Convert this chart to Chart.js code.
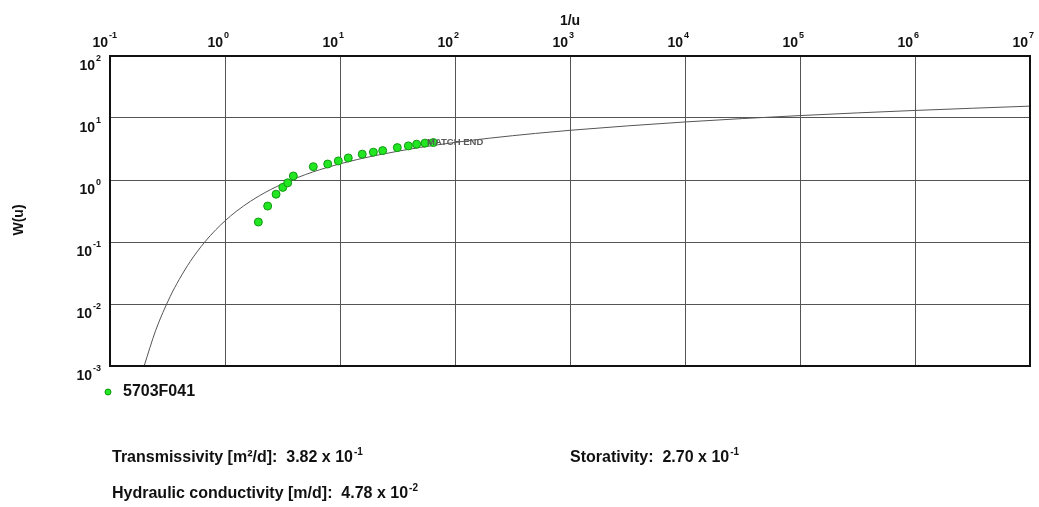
<!DOCTYPE html>
<html>
<head>
<meta charset="utf-8">
<script src="https://cdn.jsdelivr.net/npm/chart.js@4.4.1/dist/chart.umd.min.js"></script>
<style>
    html, body { margin: 0; padding: 0; background: #fff; }
    #grafico { display: block; }
</style>
</head>
<body>
<canvas id="grafico" width="1039" height="507"></canvas>
<script>
const pontosX = [1.95, 2.35, 2.78, 3.18, 3.51, 3.93, 5.86, 7.82, 9.67, 11.8, 15.6, 19.5, 23.5, 31.5, 39.3, 46.4, 54.8, 64.8];
const pontosY = [0.21, 0.38, 0.59, 0.76, 0.90, 1.16, 1.64, 1.81, 2.03, 2.27, 2.61, 2.81, 2.98, 3.33, 3.55, 3.78, 3.93, 4.02];

// curva de Theis desenhada no gráfico
const curvaX = [0.198, 0.25, 0.333, 0.4, 0.5, 0.667, 0.833, 1, 1.25, 1.667, 2, 2.5, 3.333, 5, 6.667, 10, 14.29, 20, 33.33, 50, 100, 200, 500, 1000, 1e4, 1e5, 1e6, 1e7];
const curvaY = [0.001, 0.00378, 0.0131, 0.0249, 0.0489, 0.100, 0.158, 0.219, 0.311, 0.454, 0.560, 0.702, 0.906, 1.223, 1.465, 1.823, 2.151, 2.468, 2.959, 3.355, 4.038, 4.726, 5.639, 6.332, 8.633, 10.94, 13.24, 15.54];

const decadasX = [0.1, 1, 10, 100, 1e3, 1e4, 1e5, 1e6, 1e7];
const expoentesX = ['-1', '0', '1', '2', '3', '4', '5', '6', '7'];
const decadasY = [0.001, 0.01, 0.1, 1, 10, 100];
const expoentesY = ['-3', '-2', '-1', '0', '1', '2'];

const tituloX = '1/u';
const tituloY = 'W(u)';
const nomeSerie = '5703F041';
const rotuloFim = 'MATCH END';

const parametros = ['Transmissivity [m\u00b2/d]:', 'Storativity:', 'Hydraulic conductivity [m/d]:'];
const mantissas = ['3.82', '2.70', '4.78'];
const expoentesParam = ['-1', '-1', '-2'];

const FONTE = '"Liberation Sans", Arial, sans-serif';

function fonte(tam) {
    return 'bold ' + tam + 'px ' + FONTE;
}

// texto + expoente, alinhado pela esquerda
function escreverPotencia(ctx, texto, exp, x, y, tam, tamSup) {
    ctx.textAlign = 'left';
    ctx.textBaseline = 'middle';
    ctx.font = fonte(tam);
    ctx.fillText(texto, x, y);
    const w = ctx.measureText(texto).width;
    ctx.font = fonte(tamSup);
    ctx.fillText(exp, x + w + 1, y - 6);
}

const desenhos = {
    id: 'desenhos',
    afterDatasetsDraw(chart) {
        const ctx = chart.ctx;
        const area = chart.chartArea;
        const sx = chart.scales.x;
        const sy = chart.scales.y;
        ctx.save();

        // moldura
        ctx.strokeStyle = '#111';
        ctx.lineWidth = 2;
        ctx.strokeRect(area.left, area.top, area.right - area.left, area.bottom - area.top);

        // rótulo MATCH END
        ctx.font = 'bold 9.5px ' + FONTE;
        ctx.fillStyle = '#5a5a5a';
        ctx.textAlign = 'left';
        ctx.textBaseline = 'middle';
        ctx.fillText(rotuloFim, 427, sy.getPixelForValue(4.1));

        ctx.fillStyle = '#111';

        // eixo x (topo)
        decadasX.forEach((v, i) => {
            const gx = sx.getPixelForValue(v);
            ctx.font = fonte(14);
            ctx.textAlign = 'right';
            ctx.textBaseline = 'middle';
            ctx.fillText('10', gx - 2, 43);
            ctx.font = fonte(9);
            ctx.textAlign = 'left';
            ctx.fillText(expoentesX[i], gx - 1, 36);
        });
        ctx.font = fonte(14);
        ctx.textAlign = 'center';
        ctx.textBaseline = 'middle';
        ctx.fillText(tituloX, sx.getPixelForValue(1000), 21);

        // eixo y
        decadasY.forEach((v, i) => {
            const y = sy.getPixelForValue(v) + 10;
            ctx.font = fonte(9);
            const ws = ctx.measureText(expoentesY[i]).width;
            ctx.textAlign = 'left';
            ctx.textBaseline = 'middle';
            ctx.fillText(expoentesY[i], 101 - ws, y - 7);
            ctx.font = fonte(14);
            ctx.textAlign = 'right';
            ctx.fillText('10', 100 - ws, y);
        });
        ctx.save();
        ctx.translate(19, 220);
        ctx.rotate(-Math.PI / 2);
        ctx.font = fonte(14);
        ctx.textAlign = 'center';
        ctx.textBaseline = 'middle';
        ctx.fillText(tituloY, 0, 0);
        ctx.restore();

        // legenda
        const ds = chart.data.datasets[0];
        ctx.fillStyle = ds.backgroundColor;
        ctx.strokeStyle = ds.borderColor;
        ctx.lineWidth = 1;
        ctx.beginPath();
        ctx.arc(108, 392, 3, 0, Math.PI * 2);
        ctx.fill();
        ctx.stroke();
        ctx.fillStyle = '#111';
        ctx.font = fonte(16);
        ctx.textAlign = 'left';
        ctx.textBaseline = 'middle';
        ctx.fillText(ds.label, 123, 392);

        // parâmetros
        const posicoes = [[112, 458], [570, 458], [112, 494]];
        parametros.forEach((p, i) => {
            const txt = p + '  ' + mantissas[i] + ' x 10';
            escreverPotencia(ctx, txt, expoentesParam[i], posicoes[i][0], posicoes[i][1], 16, 10);
        });

        ctx.restore();
    }
};

const ctx = document.getElementById('grafico');

new Chart(ctx, {
    type: 'scatter',
    data: {
        datasets: [
            {
                label: nomeSerie,
                data: pontosX.map((x, i) => ({ x: x, y: pontosY[i] })),
                backgroundColor: '#22e622',
                borderColor: '#119911',
                borderWidth: 1,
                pointRadius: 4,
                order: 1
            },
            {
                label: 'Theis',
                data: curvaX.map((x, i) => ({ x: x, y: curvaY[i] })),
                showLine: true,
                borderColor: '#555',
                borderWidth: 1,
                pointRadius: 0,
                cubicInterpolationMode: 'monotone',
                order: 2
            }
        ]
    },
    options: {
        responsive: false,
        animation: false,
        layout: { padding: { left: 110, top: 56, right: 9, bottom: 141 } },
        scales: {
            x: {
                type: 'logarithmic',
                position: 'top',
                min: 0.1,
                max: 1e7,
                afterBuildTicks: (axis) => { axis.ticks = decadasX.map(v => ({ value: v })); },
                ticks: { display: false },
                grid: { color: '#555', lineWidth: 1, drawTicks: false },
                border: { display: false }
            },
            y: {
                type: 'logarithmic',
                min: 0.001,
                max: 100,
                afterBuildTicks: (axis) => { axis.ticks = decadasY.map(v => ({ value: v })); },
                ticks: { display: false },
                grid: { color: '#555', lineWidth: 1, drawTicks: false },
                border: { display: false }
            }
        },
        plugins: {
            legend: { display: false },
            tooltip: { enabled: false }
        }
    },
    plugins: [desenhos]
});
</script>
</body>
</html>
